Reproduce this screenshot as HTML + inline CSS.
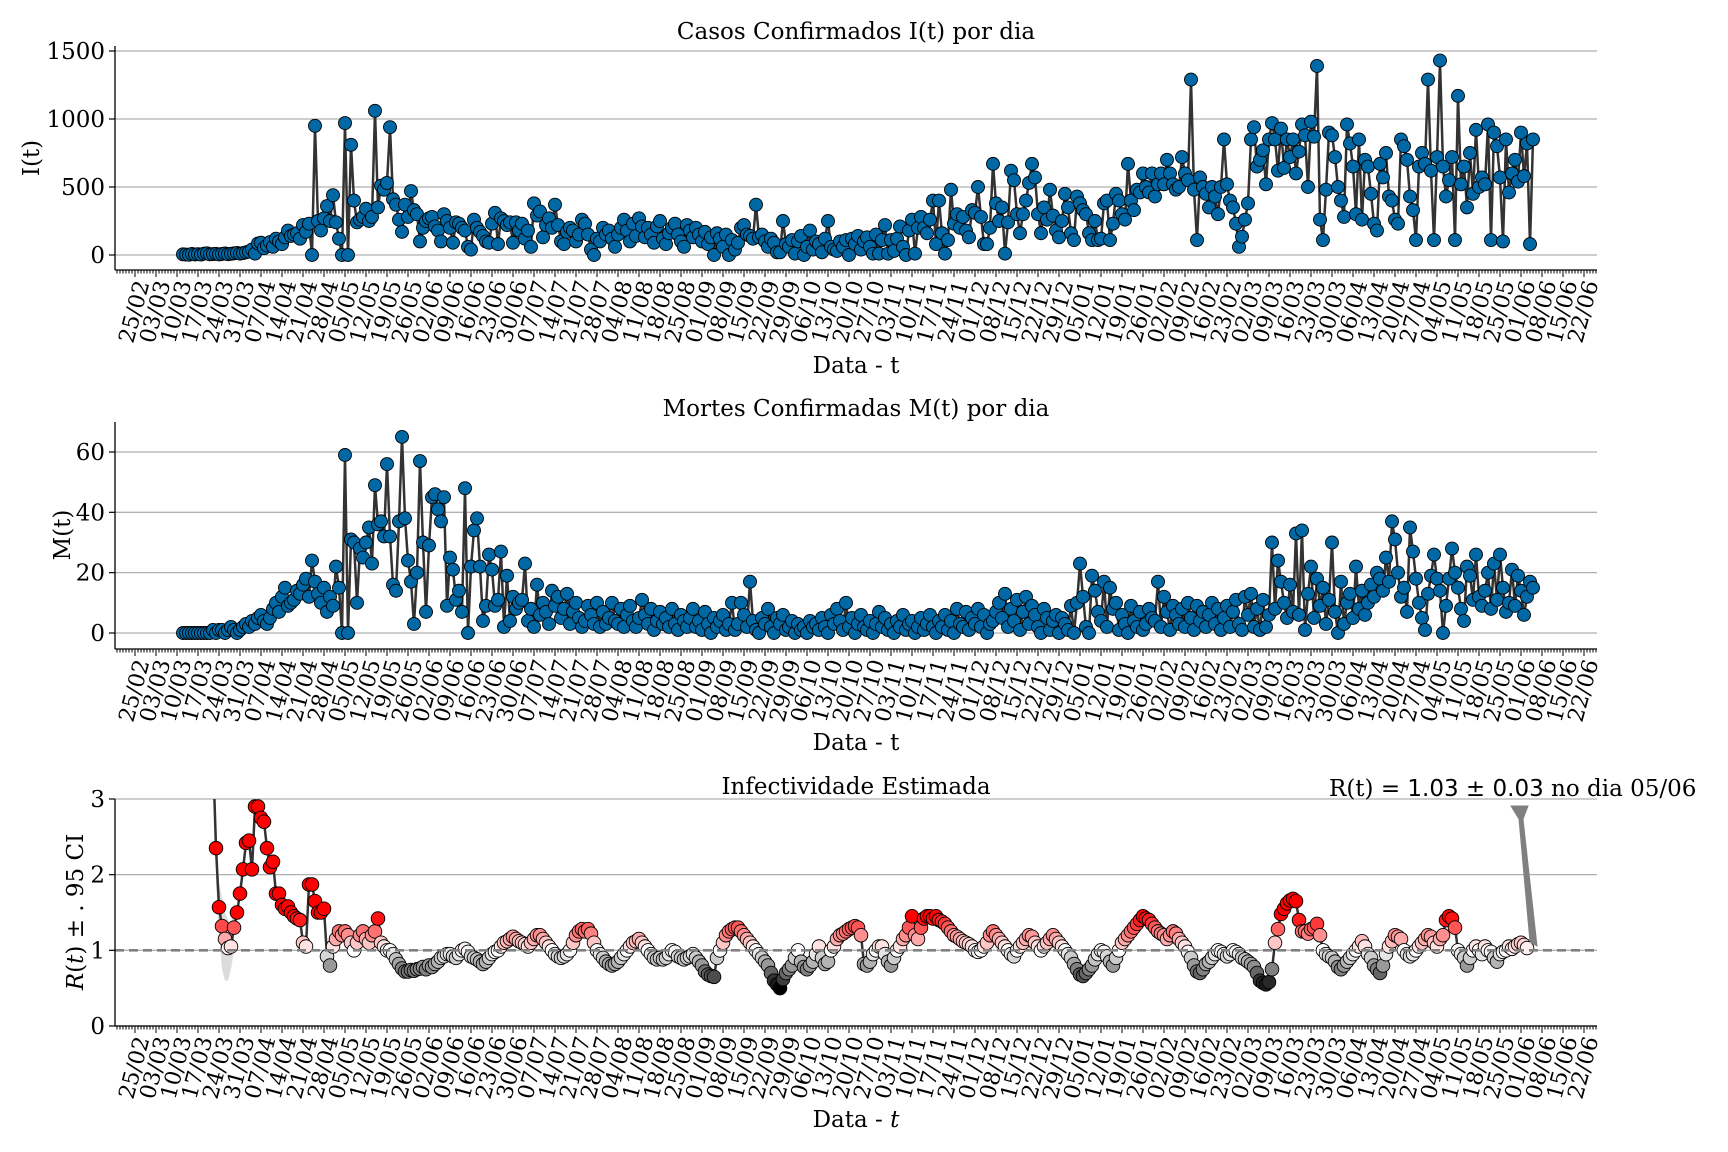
<!DOCTYPE html>
<html><head><meta charset="utf-8"><style>
html,body{margin:0;padding:0;background:#fff;}
svg{display:block;font-family:"DejaVu Serif","Liberation Serif",serif;}
</style></head><body>
<svg id="chart" width="1728" height="1152" viewBox="0 0 1728 1152" xmlns="http://www.w3.org/2000/svg">
<defs>
<clipPath id="clip3"><rect x="115" y="799" width="1482" height="228"/></clipPath>
</defs>
<g id="p1"></g>
<g id="p2"></g>
<g id="p3"></g>
<text x="856" y="39" font-size="23" text-anchor="middle">Casos Confirmados I(t) por dia</text>
<text x="856" y="416" font-size="23" text-anchor="middle">Mortes Confirmadas M(t) por dia</text>
<text x="856" y="794" font-size="23" text-anchor="middle">Infectividade Estimada</text>
<text x="856" y="373" font-size="23" text-anchor="middle">Data - t</text>
<text x="856" y="750" font-size="23" text-anchor="middle">Data - t</text>
<text x="856" y="1127" font-size="23" text-anchor="middle">Data - <tspan font-style="italic">t</tspan></text>
<text transform="translate(39,158) rotate(-90)" font-size="23" text-anchor="middle">I(t)</text>
<text transform="translate(70,535) rotate(-90)" font-size="23" text-anchor="middle">M(t)</text>
<text transform="translate(83,912) rotate(-90)" font-size="23" text-anchor="middle"><tspan font-style="italic">R</tspan>(<tspan font-style="italic">t</tspan>) ± . 95 CI</text>
<polygon points="1511,806 1528,806 1523,819 1537,946 1530,942 1519,819" fill="#808080" stroke="#808080" stroke-width="1"/>
<text x="1329" y="796" font-size="23">R(t) = <tspan font-family="DejaVu Sans, sans-serif">1.03 ± 0.03</tspan> no dia 05/06</text>
</svg>
<script>
const startDay = 16;
const rtStartDay = 25;
const tickLabels = ["25/02","03/03","10/03","17/03","24/03","31/03","07/04","14/04","21/04","28/04","05/05","12/05","19/05","26/05","02/06","09/06","16/06","23/06","30/06","07/07","14/07","21/07","28/07","04/08","11/08","18/08","25/08","01/09","08/09","15/09","22/09","29/09","06/10","13/10","20/10","27/10","03/11","10/11","17/11","24/11","01/12","08/12","15/12","22/12","29/12","05/01","12/01","19/01","26/01","02/02","09/02","16/02","23/02","02/03","09/03","16/03","23/03","30/03","06/04","13/04","20/04","27/04","04/05","11/05","18/05","25/05","01/06","08/06","15/06","22/06"];
const casesTicks = [0,500,1000,1500];
const deathsTicks = [0,20,40,60];
const rtTicks = [0,1,2,3];
const casos = [5,3,2,8,4,6,3,10,12,5,7,9,4,8,11,6,9,12,15,10,14,20,
25,40,10,85,90,50,70,95,60,120,100,80,130,180,140,150,160,120,220,170,230,
0,950,
250,180,270,360,250,440,240,120,
0,970,0,810,400,
240,260,280,340,250,280,
1060,
350,510,480,530,
940,
410,370,260,170,370,280,470,330,
300,100,200,250,270,280,210,
180,100,300,250,200,90,240,230,200,180,
60,40,260,200,170,140,100,90,230,310,
80,270,250,220,240,90,240,180,230,120,
180,60,380,290,320,130,220,270,200,370,
220,100,80,170,200,180,100,150,260,230,
150,40,0,120,100,200,150,180,120,60,
150,200,260,180,100,230,140,270,210,130,
200,150,90,210,250,120,80,160,200,230,
150,100,60,220,180,130,200,150,100,170,
80,130,0,160,120,60,150,0,110,40,
90,200,220,150,140,120,370,130,150,100,
60,120,90,20,20,250,80,60,110,10,
100,140,0,60,180,40,100,80,20,120,
250,60,40,30,100,60,110,0,120,80,
140,40,100,130,60,10,
150,10,110,220,10,110,30,120,210,60,0,180,260,10,200,280,
200,160,260,400,80,400,160,10,110,480,230,300,200,280,180,130,
330,310,500,280,80,80,200,670,380,250,350,10,240,620,550,
300,160,300,400,530,670,570,300,160,350,260,480,290,180,130,
250,450,350,160,110,430,380,330,300,160,110,250,110,120,380,
400,110,230,450,400,300,260,670,400,330,480,460,600,500,460,600,
430,520,600,520,700,600,520,480,500,720,600,550,1290,480,110,570,
500,450,350,500,430,300,500,850,520,400,350,230,60,135,260,380,
850,940,650,700,770,520,850,970,850,620,930,640,850,720,850,600,760,960,880,500,980,870,1390,260,110,480,900,880,720,
500,400,280,960,820,650,300,850,260,700,650,450,230,180,670,570,
750,430,400,260,230,850,800,700,430,330,110,650,750,670,1290,620,
110,720,1430,650,430,550,720,110,1170,520,650,350,750,450,920,500,
570,520,960,110,900,800,570,100,850,460,600,700,540,900,580,820,
80,850];
const mortes = [0,0,0,0,0,0,0,0,0,0,1,0,1,1,0,1,2,1,0,1,2,3,
2,4,3,5,6,4,3,5,8,10,7,12,15,9,10,11,14,13,16,18,12,
24,17,13,10,15,7,12,9,22,15,
0,59,0,31,30,10,28,25,30,35,
23,49,36,37,32,56,32,16,14,37,
65,38,24,17,3,20,57,30,7,29,
45,46,41,37,45,9,25,21,11,14,
7,48,0,22,34,38,22,4,9,26,
21,9,11,27,2,19,4,12,8,10,
11,23,4,8,2,16,6,10,7,3,
14,9,12,5,8,13,3,7,10,5,
2,4,9,6,3,10,2,7,3,5,
10,4,3,8,2,6,9,4,2,5,
11,6,3,8,1,4,7,3,5,2,
8,3,1,6,4,2,5,8,2,4,
1,7,3,0,5,2,4,6,1,3,
10,1,3,10,6,2,17,4,1,0,
5,3,8,2,0,5,3,6,1,2,
4,0,3,1,2,0,4,2,3,1,
5,2,0,6,3,8,4,1,10,2,
5,0,3,6,2,1,4,0,3,7,
2,5,1,3,0,4,2,6,1,3,
4,0,2,5,1,3,6,2,0,4,
2,6,1,4,0,8,3,2,7,1,
5,3,8,2,6,0,3,4,7,10,
5,13,2,8,4,11,1,7,12,3,
9,6,2,0,8,5,1,4,6,0,
5,3,1,9,0,10,23,12,2,0,
19,14,7,4,17,2,15,8,10,1,
6,3,0,9,4,2,7,1,3,8,
5,4,17,2,12,7,1,9,6,3,
8,2,10,5,1,9,4,7,2,6,
10,3,8,1,5,9,2,7,11,3,
1,12,6,13,2,8,1,11,2,6,
30,8,24,17,10,5,16,7,33,6,
34,1,13,22,5,18,9,15,3,11,
30,7,0,17,3,10,13,5,22,8,
14,6,10,16,12,20,18,14,25,17,
37,31,20,12,15,7,35,27,18,10,
5,1,13,19,26,18,14,0,9,18,
28,20,15,8,4,22,19,11,26,12,
9,14,20,8,23,11,26,15,7,10,
21,9,19,14,6,12,17,15];
const rt = [4.8,3.6,2.35,1.57,1.32,1.15,1.03,1.05,1.3,1.5,
1.75,2.07,2.42,2.45,2.07,2.9,2.9,2.75,2.7,2.35,
2.1,2.17,1.75,1.75,1.6,1.55,1.58,1.5,1.45,1.42,
1.4,1.1,1.05,1.87,1.87,1.65,1.5,1.5,1.55,0.92,
0.8,1.05,1.15,1.25,1.2,1.25,1.2,1.1,1.0,1.1,
1.2,1.25,1.15,1.1,1.2,1.25,1.42,1.1,1.05,1.0,
1.0,0.95,0.88,0.82,0.76,0.72,0.72,0.74,0.73,0.75,
0.76,0.78,0.75,0.8,0.78,0.82,0.85,0.9,0.92,0.95,
0.95,0.92,0.9,0.95,1.0,1.02,0.98,0.92,0.9,0.88,
0.85,0.82,0.85,0.9,0.95,0.98,1.0,1.05,1.1,1.12,
1.15,1.18,1.15,1.12,1.1,1.08,1.05,1.1,1.15,1.2,
1.2,1.15,1.1,1.05,1.0,0.95,0.92,0.9,0.92,0.95,
1.0,1.1,1.2,1.25,1.28,1.25,1.28,1.22,1.1,1.0,
0.95,0.9,0.85,0.82,0.8,0.82,0.85,0.9,0.95,1.0,
1.05,1.1,1.12,1.15,1.1,1.05,1.0,0.95,0.9,0.88,
0.9,0.88,0.9,0.95,1.0,0.98,0.92,0.9,0.88,0.9,
0.92,0.95,0.9,0.85,0.8,0.72,0.68,0.66,0.65,0.9,
1.0,1.1,1.2,1.25,1.28,1.3,1.3,1.25,1.2,1.15,
1.1,1.05,1.0,0.95,0.9,0.85,0.8,0.7,0.6,0.55,
0.5,0.62,0.7,0.75,0.8,0.9,1.0,0.85,0.78,0.75,
0.8,0.85,0.95,1.05,0.9,0.82,0.85,1.0,1.05,1.15,
1.2,1.22,1.25,1.28,1.3,1.32,1.3,1.2,0.82,0.8,
0.85,0.95,1.0,1.05,1.05,0.95,0.85,0.8,0.9,1.0,
1.05,1.15,1.2,1.3,1.45,1.2,1.15,1.3,1.42,1.45,
1.45,1.42,1.45,1.4,1.38,1.35,1.3,1.25,1.2,1.18,
1.15,1.12,1.1,1.08,1.05,1.0,0.98,1.0,1.05,1.1,
1.2,1.25,1.2,1.15,1.1,1.05,1.0,0.95,0.92,1.0,
1.05,1.1,1.15,1.2,1.18,1.1,1.05,1.0,1.05,1.1,
1.15,1.2,1.15,1.1,1.05,1.0,0.95,0.9,0.82,0.75,
0.68,0.66,0.7,0.75,0.8,0.88,0.95,1.0,0.98,0.92,
0.85,0.8,0.9,1.0,1.1,1.15,1.2,1.25,1.3,1.35,
1.4,1.45,1.42,1.4,1.35,1.3,1.25,1.22,1.2,1.15,
1.2,1.25,1.22,1.15,1.1,1.05,0.98,0.9,0.8,0.72,
0.7,0.75,0.82,0.85,0.9,0.95,1.0,0.98,0.95,0.92,
0.95,1.0,0.98,0.95,0.9,0.88,0.85,0.82,0.78,0.7,
0.6,0.57,0.55,0.58,0.75,1.1,1.28,1.48,1.55,1.62,
1.66,1.68,1.65,1.4,1.25,1.25,1.22,1.28,1.3,1.35,
1.2,1.0,0.95,0.92,0.9,0.85,0.78,0.75,0.8,0.85,
0.9,0.95,1.0,1.05,1.12,1.05,0.95,0.9,0.8,0.75,
0.7,0.8,0.95,1.05,1.12,1.2,1.18,1.15,1.0,0.95,
0.92,0.95,1.0,1.05,1.1,1.15,1.2,1.18,1.1,1.05,
1.15,1.2,1.4,1.45,1.42,1.3,1.0,0.95,0.9,0.8,
0.9,1.0,1.05,1.0,0.95,1.05,1.0,0.98,0.9,0.85,
0.95,0.98,1.0,1.05,1.02,1.05,1.08,1.1,1.07,1.03];
const ciDays = [27,28,29,30,31,32,33];
const ciLow = [1.9,1.2,0.75,0.6,0.6,0.75,1.0];
const ciHigh = [2.8,1.9,1.7,1.5,1.4,1.35,1.6];

const NS = "http://www.w3.org/2000/svg";
const AX_L = 115, AX_R = 1597;
function xs(d){ return 135 + d*3.0; }
const panels = [
  {g:'p1', y:v=>255 - v*0.136, top:46, bottom:270, ticks:casesTicks, key:'cases'},
  {g:'p2', y:v=>633 - v*3.017, top:422, bottom:649, ticks:deathsTicks, key:'deaths'},
  {g:'p3', y:v=>1026 - v*75.67, top:799, bottom:1026, ticks:rtTicks, key:'rt'}
];
function mk(tag, attrs, parent){
  const e = document.createElementNS(NS, tag);
  for (const k in attrs) e.setAttribute(k, attrs[k]);
  parent.appendChild(e);
  return e;
}
function rtColor(v){
  if (v >= 1){
    const t = Math.min(1,(v-1)/0.45);
    const c = Math.round(255*(1-t));
    return `rgb(255,${c},${c})`;
  }
  const t = Math.max(0, Math.min(1,(v-0.5)/0.5));
  const c = Math.round(255*t);
  return `rgb(${c},${c},${c})`;
}
panels.forEach((p, pi) => {
  const g = document.getElementById(p.g);
  p.ticks.forEach(t => {
    const yy = p.y(t);
    const gl = mk('line', {x1:AX_L, x2:AX_R, y1:yy, y2:yy, stroke:'#b0b0b0', 'stroke-width':1.3}, g);
    
    
    const tk = mk('line', {x1:AX_L-6, x2:AX_L, y1:yy, y2:yy, stroke:'#000', 'stroke-width':1.2}, g);
    
    
    const tl = mk('text', {x:AX_L-10, y:yy+8, 'font-size':23, 'text-anchor':'end'}, g);
    tl.textContent = t;
    
    
  });
  for (let d = -7; d <= 490; d++){
    const xx = xs(d);
    if (xx < AX_L || xx > AX_R) continue;
    const major = (d % 7 === 0) && d >= 0 && d/7 < tickLabels.length;
    const tk = mk('line', {x1:xx, x2:xx, y1:p.bottom, y2:p.bottom + (major?7:3.5), stroke:'#000', 'stroke-width':1}, g);
    
    
    if (major){
      const lab = mk('text', {transform:`translate(${xx+7},${p.bottom+11}) rotate(-75)`, 'font-size':22, 'text-anchor':'end', dy:'0.35em'}, g);
      lab.textContent = tickLabels[d/7];
      
      
    }
  }
  if (p.key === 'rt'){
    const cg = mk('g', {'clip-path':'url(#clip3)'}, g);
    let pts = ciDays.map((d,i)=>xs(d)+','+p.y(ciHigh[i]));
    for (let i = ciDays.length-1; i >= 0; i--) pts.push(xs(ciDays[i])+','+p.y(ciLow[i]));
    const band = mk('polygon', {points:pts.join(' '), fill:'#dcdcdc', stroke:'none'}, cg);
    
    
    const ref = mk('line', {x1:AX_L, x2:AX_R, y1:p.y(1), y2:p.y(1), stroke:'#808080', 'stroke-width':2.6, 'stroke-dasharray':'9,5'}, g);
    
    
    const dstr = rt.map((v,i)=>(i?'L':'M')+xs(rtStartDay+i).toFixed(1)+','+p.y(v).toFixed(1)).join(' ');
    const ln = mk('path', {d:dstr, fill:'none', stroke:'#333', 'stroke-width':2.5}, cg);
    
    
    rt.forEach((v,i)=>{
      const c = mk('circle', {cx:xs(rtStartDay+i), cy:p.y(v), r:6.8, fill:rtColor(v), stroke:'#000', 'stroke-width':0.9}, cg);
      
      
    });
  } else {
    const arr = p.key === 'cases' ? casos : mortes;
    const dstr = arr.map((v,i)=>(i?'L':'M')+xs(startDay+i).toFixed(1)+','+p.y(v).toFixed(1)).join(' ');
    const ln = mk('path', {d:dstr, fill:'none', stroke:'#333', 'stroke-width':2.5}, g);
    
    
    arr.forEach((v,i)=>{
      const c = mk('circle', {cx:xs(startDay+i), cy:p.y(v), r:6.5, fill:'#0069a5', stroke:'#000', 'stroke-width':0.9}, g);
      
      
    });
  }
  const ls = mk('line', {x1:AX_L, x2:AX_L, y1:p.top, y2:p.bottom, stroke:'#000', 'stroke-width':1.3}, g);
  
  
  const bs = mk('line', {x1:AX_L, x2:AX_R, y1:p.bottom, y2:p.bottom, stroke:'#000', 'stroke-width':1.3}, g);
  
  
});
</script>
</body></html>
